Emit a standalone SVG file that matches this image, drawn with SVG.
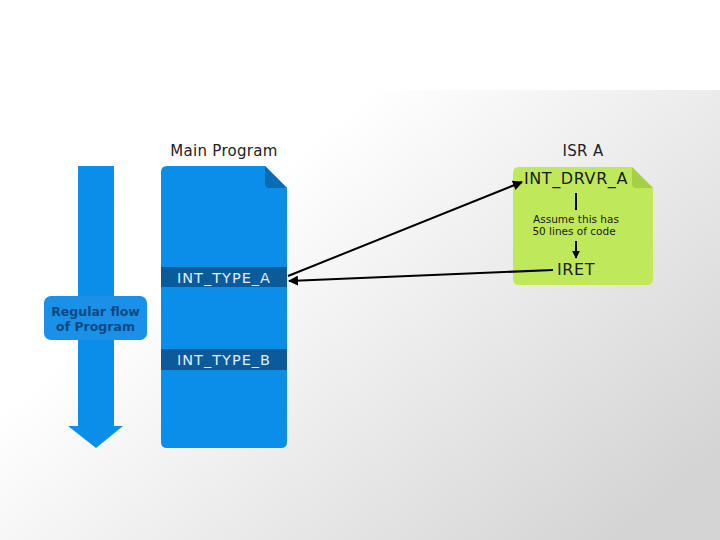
<svg xmlns="http://www.w3.org/2000/svg" width="720" height="540" viewBox="0 0 720 540">
<defs>
<linearGradient id="bg" x1="0.3" y1="0.3" x2="1" y2="0.8">
<stop offset="0" stop-color="#ffffff"/>
<stop offset="1" stop-color="#d4d4d4"/>
</linearGradient>
<marker id="ah" viewBox="0 0 10 10" refX="9" refY="5" markerWidth="5" markerHeight="5" orient="auto" markerUnits="strokeWidth">
<path d="M0,0 L10,5 L0,10 z" fill="#000"/>
</marker>
<marker id="ah2" viewBox="0 0 10 10" refX="9" refY="5" markerWidth="4" markerHeight="4" orient="auto" markerUnits="strokeWidth">
<path d="M0,0 L10,5 L0,10 z" fill="#000"/>
</marker>
</defs>
<style>
.t{font-family:"DejaVu Sans","Liberation Sans",sans-serif}
.title{font-size:15px;fill:#222;letter-spacing:0.3px}
.band{font-size:14.5px;fill:#dfeefb;letter-spacing:1px}
.isr{font-size:16px;fill:#1a1a1a;letter-spacing:0.6px}
.small{font-size:10.5px;fill:#1a1a1a}
.flow{font-size:12.5px;font-weight:bold;fill:#0c4a86}
.conn{stroke:#000;stroke-width:2;fill:none}
</style>
<rect x="0" y="0" width="720" height="540" fill="#ffffff"/>
<rect x="0" y="90" width="720" height="450" fill="url(#bg)"/>

<g id="flow-arrow">
<path d="M78,166 H114 V426 H123 L96,448 L68,426 H78 Z" fill="#0a8ee8"/>
<rect x="44" y="296" width="103" height="44" rx="7" fill="#1a90e8"/>
<text class="t flow" x="95.5" y="316" text-anchor="middle">Regular flow</text>
<text class="t flow" x="95.5" y="331" text-anchor="middle">of Program</text>
</g>

<g id="main-program">
<text class="t title" x="224" y="156" text-anchor="middle">Main Program</text>
<path d="M167,166 H265 L287,188 V442 Q287,448 281,448 H167 Q161,448 161,442 V172 Q161,166 167,166 Z" fill="#0a8ee8"/>
<path d="M265,166 L287,188 H269 Q265,188 265,184 Z" fill="#0a6cb5"/>
<rect x="161" y="267" width="126" height="20" fill="#0b5a9a"/>
<text class="t band" x="224" y="282.5" text-anchor="middle">INT_TYPE_A</text>
<rect x="161" y="349" width="126" height="21" fill="#0b5a9a"/>
<text class="t band" x="224" y="365" text-anchor="middle">INT_TYPE_B</text>
</g>

<g id="isr-a">
<text class="t title" x="583" y="156" text-anchor="middle">ISR A</text>
<path d="M519,167 H632 L653,188 V279 Q653,285 647,285 H519 Q513,285 513,279 V173 Q513,167 519,167 Z" fill="#bfe95a"/>
<path d="M632,167 L653,188 H636 Q632,188 632,184 Z" fill="#a6cf48"/>
<text class="t isr" x="576" y="184" text-anchor="middle">INT_DRVR_A</text>
<line x1="576" y1="193" x2="576" y2="210" stroke="#000" stroke-width="2"/>
<text class="t small" x="576" y="223" text-anchor="middle">Assume this has</text>
<text class="t small" x="574" y="235" text-anchor="middle">50 lines of code</text>
<line x1="576" y1="241" x2="576" y2="258" stroke="#000" stroke-width="2" marker-end="url(#ah2)"/>
<text class="t isr" x="576" y="275" text-anchor="middle">IRET</text>
</g>

<g id="connectors">
<line class="conn" x1="288" y1="276" x2="522" y2="182" marker-end="url(#ah)"/>
<line class="conn" x1="553" y1="270" x2="289" y2="281" marker-end="url(#ah)"/>
</g>
</svg>
